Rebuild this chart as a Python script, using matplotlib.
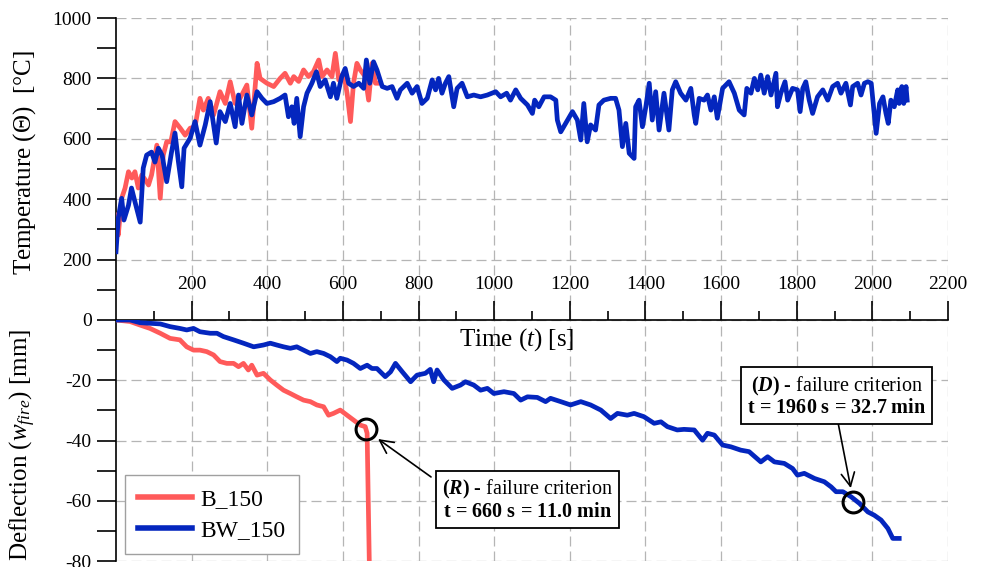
import matplotlib
matplotlib.use("Agg")
import matplotlib.pyplot as plt
from matplotlib.ticker import FixedLocator

# ---------------- data ----------------
bw_temp_time = [
    0, 6, 15, 21, 33, 41, 50, 64, 72, 81,
    94, 103, 112, 122, 134, 147, 156, 165, 174, 180,
    196, 209, 222, 236, 249, 265, 275, 289, 302, 315,
    324, 333, 346, 359, 373, 386, 399, 417, 434, 447,
    456, 465, 471, 478, 487, 496, 505, 518, 530, 540,
    553, 567, 575, 584, 597, 606, 615, 628, 642, 655,
    662, 671, 681, 690, 704, 717, 730, 743, 752, 770,
    783, 796, 809, 823, 836, 845, 853, 862, 871, 880,
    893, 902, 915, 929, 946, 964, 982, 1004, 1017, 1033,
    1043, 1057, 1070, 1088, 1101, 1107, 1118, 1132, 1149, 1163,
    1167, 1176, 1189, 1207, 1220, 1229, 1237, 1246, 1255, 1268,
    1277, 1290, 1308, 1321, 1330, 1339, 1348, 1357, 1370, 1374,
    1383, 1392, 1401, 1410, 1418, 1427, 1436, 1449, 1462, 1471,
    1480, 1493, 1507, 1520, 1529, 1533, 1542, 1555, 1564, 1573,
    1582, 1590, 1604, 1621, 1635, 1648, 1661, 1668, 1679, 1688,
    1697, 1705, 1714, 1723, 1732, 1745, 1749, 1758, 1769, 1776,
    1789, 1802, 1809, 1816, 1824, 1833, 1842, 1855, 1869, 1882,
    1895, 1908, 1917, 1930, 1942, 1948, 1961, 1970, 1979, 1988,
    1997, 2005, 2010, 2019, 2028, 2036, 2042, 2049, 2058, 2067,
    2071, 2078, 2083, 2089, 2092,
]
bw_temp = [
    226, 338, 403, 331, 380, 437, 392, 324, 503, 546,
    556, 523, 569, 545, 458, 557, 619, 524, 441, 569,
    602, 657, 579, 646, 723, 586, 690, 657, 717, 640,
    745, 651, 745, 679, 756, 734, 717, 723, 734, 745,
    673, 706, 651, 734, 607, 706, 751, 784, 822, 773,
    795, 739, 784, 734, 806, 833, 784, 773, 784, 767,
    861, 784, 855, 828, 773, 767, 773, 734, 762, 784,
    751, 773, 717, 734, 795, 762, 800, 751, 784, 806,
    706, 767, 784, 739, 745, 739, 745, 756, 739, 751,
    728, 762, 734, 712, 684, 728, 706, 739, 739, 728,
    662, 623, 651, 690, 662, 596, 717, 590, 646, 629,
    712, 728, 734, 734, 695, 574, 651, 552, 535, 706,
    728, 640, 706, 784, 662, 756, 629, 751, 629, 762,
    789, 751, 728, 767, 679, 651, 734, 728, 745, 695,
    739, 668, 767, 789, 751, 695, 679, 767, 751, 800,
    762, 811, 751, 806, 745, 817, 706, 751, 789, 728,
    767, 762, 690, 767, 789, 728, 684, 739, 762, 728,
    773, 784, 751, 784, 712, 773, 784, 745, 784, 789,
    784, 684, 618, 717, 739, 684, 651, 728, 706, 762,
    717, 773, 717, 773, 728,
]

b_temp_time = [
    0, 6, 15, 24, 33, 42, 50, 59, 68, 77,
    86, 94, 108, 117, 125, 134, 145, 156, 170, 183,
    196, 209, 222, 231, 244, 258, 275, 289, 302, 315,
    328, 346, 359, 373, 381, 399, 417, 434, 447, 461,
    470, 483, 496, 509, 522, 536, 545, 558, 571, 580,
    589, 602, 611, 620, 628, 637, 646, 659, 668, 677,
    686, 692,
]
b_temp = [
    348, 281, 403, 437, 491, 470, 491, 437, 480, 465,
    447, 480, 579, 403, 546, 590, 590, 657, 635, 612,
    635, 640, 734, 695, 734, 679, 756, 717, 789, 717,
    734, 778, 635, 850, 800, 784, 773, 800, 817, 784,
    806, 790, 828, 806, 822, 861, 806, 828, 806, 883,
    795, 817, 751, 657, 784, 850, 828, 806, 728, 850,
    784, 784,
]

b_defl_time = [
    0, 37, 64, 90, 117, 143, 169, 187, 205, 222,
    240, 258, 275, 293, 311, 324, 337, 350, 359, 373,
    390, 408, 425, 443, 461, 478, 496, 514, 531, 549,
    562, 575, 593, 611, 628, 646, 659, 664, 670,
]
b_defl = [
    0, -0.5, -1.7, -2.8, -4.4, -6.1, -6.6, -8.9, -10, -10,
    -10.5, -11.6, -13.8, -14.4, -14.4, -15.5, -14.4, -16.6, -15, -18.3,
    -17.7, -19.9, -21.6, -23.3, -24.4, -25.5, -26.6, -27.1, -28.2, -28.8,
    -31.6, -31, -29.9, -31.6, -33.2, -34.9, -35.4, -37.6, -82,
]

bw_defl_time = [
    0, 37, 64, 90, 117, 143, 169, 187, 205, 222,
    249, 267, 284, 311, 337, 364, 390, 408, 425, 443,
    461, 478, 496, 514, 531, 549, 567, 584, 593, 611,
    628, 646, 664, 677, 690, 712, 726, 739, 757, 779,
    796, 818, 831, 840, 849, 867, 889, 911, 924, 946,
    964, 982, 999, 1026, 1052, 1070, 1088, 1114, 1136, 1149,
    1176, 1202, 1229, 1255, 1282, 1308, 1326, 1352, 1370, 1396,
    1423, 1441, 1458, 1484, 1502, 1529, 1551, 1564, 1582, 1604,
    1626, 1652, 1674, 1705, 1723, 1741, 1767, 1789, 1802, 1820,
    1847, 1873, 1891, 1904, 1922, 1944, 1966, 1988, 2005, 2023,
    2041, 2054, 2071,
]
bw_defl = [
    0, 0, -0.9, -1.1, -1.3, -2.2, -2.8, -3.3, -2.8, -3.9,
    -4.4, -4.4, -5.5, -6.6, -7.7, -8.9, -8.3, -7.7, -8.3, -8.9,
    -9.4, -8.9, -10, -11.1, -10.5, -11.1, -12.2, -13.8, -12.7, -13.3,
    -14.4, -16.1, -15, -16.1, -16.1, -18.8, -17.2, -14.4, -17.2, -20.5,
    -18.3, -17.7, -16.4, -20.5, -16.6, -19.9, -22.7, -21.6, -20.5, -21.6,
    -23.3, -22.7, -24.4, -23.8, -24.4, -26.6, -25.5, -25.7, -27.1, -26,
    -27.1, -28.2, -27.1, -28.2, -29.9, -32.7, -31, -31.6, -31, -32.1,
    -34.3, -33.8, -35.4, -36.5, -36.3, -36.5, -39.9, -37.6, -38.2, -41.5,
    -42.1, -43.2, -43.7, -47.1, -45.4, -47.1, -47.6, -49.3, -51.5, -50.9,
    -52.6, -53.7, -55.4, -57, -57, -58.7, -60.9, -63.7, -64.8, -66.4,
    -69.2, -72.5, -72.5,
]

series_labels = ["B_150", "BW_150"]
temp_ticks = [200, 400, 600, 800, 1000]
defl_ticks = [0, -20, -40, -60, -80]
time_ticks = list(range(200, 2201, 200))

# failure points
r_point = (662, -36.2)
d_point = (1950, -60.3)
r_text = ("$\\mathbf{(}\\mathbfit{R}\\mathbf{)}$ - failure criterion\n"
          "$\\mathbf{t\\,=\\,660\\ s\\,=\\,11.0\\ min}$")
d_text = ("$\\mathbf{(}\\mathbfit{D}\\mathbf{)}$ - failure criterion\n"
          "$\\mathbf{t\\,=\\,1960\\ s\\,=\\,32.7\\ min}$")

# ---------------- style ----------------
plt.rcParams["font.family"] = ["Liberation Serif", "DejaVu Serif"]
plt.rcParams["mathtext.fontset"] = "custom"
plt.rcParams["mathtext.rm"] = "Liberation Serif"
plt.rcParams["mathtext.it"] = "Liberation Serif:italic"
plt.rcParams["mathtext.bf"] = "Liberation Serif:bold"
if "mathtext.bfit" in plt.rcParams:
    plt.rcParams["mathtext.bfit"] = "Liberation Serif:italic:bold"
else:
    r_text = r_text.replace("\\mathbfit", "\\mathbf")
    d_text = d_text.replace("\\mathbfit", "\\mathbf")
plt.rcParams["axes.unicode_minus"] = False

RED = "#FF5A5A"
BLUE = "#0426BE"
GRID = dict(color="#b5b5b5", linestyle=(0, (8, 4)), linewidth=0.9)

W, H = 983, 567
fig = plt.figure(figsize=(W / 100, H / 100), dpi=100)
x0, x1 = 116, 948
y_top, y_zero, y_bot = 18, 320, 561
ax_t = fig.add_axes([x0 / W, (H - y_zero) / H, (x1 - x0) / W, (y_zero - y_top) / H])
ax_d = fig.add_axes([x0 / W, (H - y_bot) / H, (x1 - x0) / W, (y_bot - y_zero) / H])

# ---------- temperature panel ----------
ax_t.patch.set_visible(False)
ax_t.plot(b_temp_time, b_temp, color=RED, lw=3.4, solid_joinstyle="round", zorder=3)
ax_t.plot(bw_temp_time, bw_temp, color=BLUE, lw=3.4, solid_joinstyle="round", zorder=4)
ax_t.set_xlim(0, 2200)
ax_t.set_ylim(0, 1000)
for s in ["top", "right", "bottom"]:
    ax_t.spines[s].set_visible(False)
ax_t.spines["left"].set_linewidth(1.2)
ax_t.yaxis.set_major_locator(FixedLocator(temp_ticks))
ax_t.yaxis.set_minor_locator(FixedLocator([100, 300, 500, 700, 900]))
ax_t.xaxis.set_major_locator(FixedLocator(time_ticks))
ax_t.tick_params(axis="x", which="both", length=0, labelbottom=False)
ax_t.tick_params(axis="y", which="both", direction="out", length=13.5, width=1.2,
                 labelsize=14, pad=4)
ax_t.grid(True, which="major", **GRID)
ax_t.set_axisbelow(True)
ax_t.set_ylabel("Temperature ($\\mathit{\\Theta}$)  [°C]", fontsize=18)
ax_t.yaxis.set_label_coords(-0.094, 0.52)

# ---------- deflection panel ----------
ax_d.patch.set_visible(False)
ax_d.plot(b_defl_time, b_defl, color=RED, lw=3.4, label=series_labels[0],
          solid_joinstyle="round", zorder=3)
ax_d.plot(bw_defl_time, bw_defl, color=BLUE, lw=3.4, label=series_labels[1],
          solid_joinstyle="round", zorder=3)
ax_d.set_xlim(0, 2200)
ax_d.set_ylim(-80, 0)
for s in ["bottom", "right"]:
    ax_d.spines[s].set_visible(False)
ax_d.spines["left"].set_linewidth(1.2)
ax_d.spines["top"].set_linewidth(1.2)
ax_d.xaxis.set_ticks_position("top")
ax_d.xaxis.set_major_locator(FixedLocator(time_ticks))
ax_d.xaxis.set_minor_locator(FixedLocator(list(range(100, 2200, 200))))
ax_d.tick_params(axis="x", which="major", direction="out", length=13.5, width=1.2,
                 labelsize=14, pad=6, top=True, bottom=False, labeltop=True, labelbottom=False)
ax_d.tick_params(axis="x", which="minor", direction="out", length=6.5, width=1.2,
                 top=True, bottom=False)
ax_d.yaxis.set_major_locator(FixedLocator(defl_ticks))
ax_d.yaxis.set_minor_locator(FixedLocator([-10, -30, -50, -70]))
ax_d.tick_params(axis="y", which="both", direction="out", length=13.5, width=1.2,
                 labelsize=14, pad=4)
ax_d.grid(True, which="major", **GRID)
ax_d.set_axisbelow(True)
ax_d.set_ylabel("Deflection ($w_{fire}$) [mm]", fontsize=18)
ax_d.yaxis.set_label_coords(-0.094, 0.48)
ax_d.text(0.482, 0.917, "Time ($t$) [s]", transform=ax_d.transAxes, fontsize=18,
          ha="center", va="center")

leg = ax_d.legend(loc="lower left", bbox_to_anchor=(0.011, 0.028), borderaxespad=0,
                  fontsize=17, fancybox=False, edgecolor="#a0a0a0", framealpha=1,
                  handlelength=2.3, handletextpad=0.35, labelspacing=0.42,
                  borderpad=0.55)
leg.get_frame().set_linewidth(1.0)
for line in leg.get_lines():
    line.set_linewidth(4.0)

# failure markers
for pt in (r_point, d_point):
    ax_d.plot(*pt, marker="o", ms=15, mfc="none", mec="black", mew=2.2, zorder=6,
              clip_on=False)

arrow = dict(arrowstyle="->", color="black", lw=1.2, mutation_scale=24,
             shrinkA=0, shrinkB=0)
ax_d.annotate("", xy=(693, -39.5), xytext=(833, -52.1), arrowprops=arrow, zorder=7)
ax_d.annotate("", xy=(1943, -55.8), xytext=(1909, -33.9), arrowprops=arrow, zorder=7)

box = dict(boxstyle="square,pad=0.3", fc="white", ec="black", lw=1.3)
ax_d.text(1087, -59.8, r_text, fontsize=14.5, ha="center", va="center",
          multialignment="center", linespacing=1.1, bbox=box, zorder=8)
ax_d.text(1906, -25.4, d_text, fontsize=14.5, ha="center", va="center",
          multialignment="center", linespacing=1.1, bbox=box, zorder=8)

fig.savefig("out.png", dpi=100)
